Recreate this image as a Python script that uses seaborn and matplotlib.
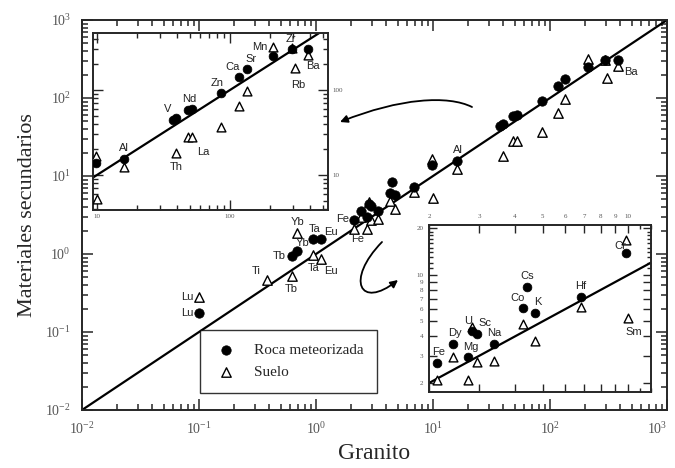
import numpy as np
import pandas as pd
import matplotlib
matplotlib.use("Agg")
import matplotlib.pyplot as plt
from matplotlib.path import Path
from matplotlib.patches import FancyArrowPatch
from matplotlib.ticker import LogLocator, FixedLocator, FixedFormatter, NullFormatter
import seaborn as sns

# concentraciones (granito vs. materiales secundarios)
elementos = ["Lu", "Ti", "Tb", "Yb", "Ta", "Eu",
             "Fe", "Dy", "Mg", "U", "Sc", "Na", "Co", "Cs", "K", "Hf", "Cr", "Sm",
             "Al", "V", "Th", "Nd", "La", "Zn", "Ca", "Sr", "Mn", "Zr", "Rb", "Ba"]
granito = [0.10, 0.38, 0.62, 0.69, 0.95, 1.10,
           2.13, 2.43, 2.74, 2.83, 2.94, 3.38, 4.27, 4.42, 4.71, 6.83, 9.8, 10.0,
           16, 37.3, 39.5, 48.4, 51.8, 85.7, 116, 134, 212, 295, 306, 385]
roca = [0.175, np.nan, 0.94, 1.09, 1.56, 1.56,
        2.69, 3.57, 2.95, 4.33, 4.14, 3.57, 6.1, 8.3, 5.66, 7.18, 13.8, np.nan,
        15.4, 44.4, 46.8, 58, 59.8, 92, 142, 176, 251, 303, np.nan, 303]
suelo = [0.28, 0.46, 0.52, 1.86, 0.97, 0.87,
         2.09, 2.95, 2.09, 4.6, 2.72, 2.77, 4.8, np.nan, 3.73, 6.18, 16.7, 5.25,
         12.4, np.nan, 18.2, 28, 28, 36.7, 65, 97, 320, 310, 181, 257]
diagonal = [1e-2, 1e3]

df = pd.DataFrame({"elemento": elementos, "granito": granito,
                   "roca": roca, "suelo": suelo}).set_index("elemento", drop=False)

sns.set_style("ticks")
plt.rcParams["font.family"] = ["Liberation Serif", "DejaVu Serif"]
plt.rcParams["mathtext.fontset"] = "stix"

fig = plt.figure(figsize=(6.75, 4.68), dpi=100)
ax = fig.add_axes([82/675, 1-410/468, 585/675, 390/468])
ax1 = fig.add_axes([93/675, 1-210/468, 235/675, 177/468])
ax2 = fig.add_axes([429/675, 1-392/468, 222/675, 167/468])


def dibujar(a, s=46, etiqueta=False):
    a.set_xscale("log")
    a.set_yscale("log")
    sns.lineplot(x=diagonal, y=diagonal, ax=a, color="black", lw=1.6)
    sns.scatterplot(data=df, x="granito", y="suelo", ax=a, marker="^", s=s,
                    color="white", edgecolor="black", linewidth=1.0, zorder=3,
                    label="Suelo" if etiqueta else None, legend=False)
    sns.scatterplot(data=df, x="granito", y="roca", ax=a, marker="o", s=s,
                    color="black", edgecolor="black", linewidth=0.5, zorder=4,
                    label="Roca meteorizada" if etiqueta else None, legend=False)
    a.set_xlabel("")
    a.set_ylabel("")
    for sp in a.spines.values():
        sp.set_visible(True)
        sp.set_linewidth(1.4)


def rotular(a, lista, fs=8):
    for el, serie, dx, dy, ha in lista:
        a.annotate(el, (df.loc[el, "granito"], df.loc[el, serie]),
                   xytext=(dx, dy), textcoords="offset points", ha=ha, va="center",
                   fontsize=fs, family=["Liberation Sans", "DejaVu Sans"], color="#222222",
                   zorder=5)


# --- panel principal ---
dibujar(ax, etiqueta=True)
ax.set_xlim(1e-2, 1e3)
ax.set_ylim(1e-2, 1e3)
for eje in (ax.xaxis, ax.yaxis):
    eje.set_major_locator(LogLocator(base=10, numticks=20))
    eje.set_minor_locator(LogLocator(base=10, subs=np.arange(2, 10), numticks=100))
    eje.set_minor_formatter(NullFormatter())
ax.tick_params(which="both", direction="in", top=True, right=True, width=1.1)
ax.tick_params(which="major", length=8, labelsize=10, labelcolor="#555555", pad=8)
ax.tick_params(which="minor", length=4)
ax.set_xlabel("Granito", fontsize=17, labelpad=4)
ax.set_ylabel("Materiales secundarios", fontsize=16, labelpad=6)

rotular(ax, [("Lu", "suelo", -4, 0, "right"), ("Lu", "roca", -4, 0, "right"),
             ("Ti", "suelo", -8, 7, "center"), ("Tb", "roca", -4, 0, "right"),
             ("Tb", "suelo", 0, -9, "center"), ("Yb", "suelo", 0, 8, "center"),
             ("Yb", "roca", 4, 6, "center"), ("Ta", "roca", 1, 7, "center"),
             ("Eu", "roca", 7, 5, "center"), ("Ta", "suelo", 0, -9, "center"),
             ("Eu", "suelo", 7, -9, "center"), ("Fe", "roca", -4, 1, "right"),
             ("Fe", "suelo", 2, -7, "center"), ("Al", "roca", 1, 8, "center"),
             ("Ba", "suelo", 4, -4, "left")])

leg = ax.legend(handles=ax.get_legend_handles_labels()[0][::-1],
                labels=["Roca meteorizada", "Suelo"],
                loc="lower left", bbox_to_anchor=(0.202, 0.044), fontsize=11,
                frameon=True, fancybox=False, edgecolor="black", borderpad=0.9,
                handlelength=1.6, handletextpad=1.0, labelspacing=0.55,
                borderaxespad=0)
leg.get_frame().set_linewidth(1.0)

# flechas
p1 = Path([((472-82)/585, (410-107)/390), ((448-82)/585, (410-95)/390),
           ((400-82)/585, (410-98)/390), ((340-82)/585, (410-122)/390)],
          [Path.MOVETO, Path.CURVE4, Path.CURVE4, Path.CURVE4])
ax.add_patch(FancyArrowPatch(path=p1, arrowstyle="-|>", mutation_scale=11,
                             color="black", lw=1.3, transform=ax.transAxes))
p2 = Path([((382-82)/585, (410-242)/390), ((345-82)/585, (410-280)/390),
           ((360-82)/585, (410-310)/390), ((398-82)/585, (410-280)/390)],
          [Path.MOVETO, Path.CURVE4, Path.CURVE4, Path.CURVE4])
ax.add_patch(FancyArrowPatch(path=p2, arrowstyle="-|>", mutation_scale=11,
                             color="black", lw=1.3, transform=ax.transAxes))

# --- recuadro superior izquierdo ---
dibujar(ax1, s=40)
ax1.set_xlim(9.33, 546)
ax1.set_ylim(3.87, 469)
for eje in (ax1.xaxis, ax1.yaxis):
    eje.set_major_locator(FixedLocator([10, 100]))
    eje.set_major_formatter(FixedFormatter(["10", "100"]))
    eje.set_minor_locator(LogLocator(base=10, subs=np.arange(2, 10), numticks=100))
    eje.set_minor_formatter(NullFormatter())
ax1.tick_params(which="both", direction="in", top=True, right=True, width=1.0,
                labelleft=False, labelright=True, labelsize=5, labelcolor="#555555")
ax1.tick_params(which="major", length=7, pad=3)
ax1.tick_params(which="minor", length=3.5)
rotular(ax1, [("Al", "roca", 0, 8, "center"), ("V", "roca", -4, 8, "center"),
              ("Nd", "roca", 1, 8, "center"), ("Th", "suelo", 0, -10, "center"),
              ("La", "suelo", 8, -11, "center"), ("Zn", "roca", -3, 7, "center"),
              ("Ca", "roca", -4, 7, "center"), ("Sr", "roca", 3, 7, "center"),
              ("Mn", "suelo", -4, 0, "right"), ("Zr", "roca", -1, 7, "center"),
              ("Ba", "suelo", 4, -8, "center"), ("Rb", "suelo", 3, -12, "center")])

# --- recuadro inferior derecho ---
dibujar(ax2, s=40)
ax2.set_xlim(2, 12)
ax2.set_ylim(1.75, 21)
ax2.xaxis.set_major_locator(FixedLocator([2, 3, 4, 5, 6, 7, 8, 9, 10]))
ax2.xaxis.set_major_formatter(FixedFormatter(["2", "3", "4", "5", "6", "7", "8", "9", "10"]))
ax2.xaxis.set_minor_locator(FixedLocator([11, 12]))
ax2.yaxis.set_major_locator(FixedLocator([2, 3, 4, 5, 6, 7, 8, 9, 10, 20]))
ax2.yaxis.set_major_formatter(FixedFormatter(["2", "3", "4", "5", "6", "7", "8", "9", "10", "20"]))
ax2.yaxis.set_minor_locator(FixedLocator(list(range(11, 20))))
for eje in (ax2.xaxis, ax2.yaxis):
    eje.set_minor_formatter(NullFormatter())
ax2.tick_params(which="both", direction="in", top=True, right=True, width=1.0,
                labelbottom=False, labeltop=True, labelsize=5, labelcolor="#555555")
ax2.tick_params(which="major", length=6, pad=4)
ax2.tick_params(which="minor", length=3)
rotular(ax2, [("Fe", "roca", 1, 8, "center"), ("Dy", "roca", 1, 8, "center"),
              ("Mg", "roca", 2, 7, "center"), ("U", "roca", -3, 7, "center"),
              ("Sc", "roca", 6, 8, "center"), ("Na", "roca", 0, 8, "center"),
              ("Cs", "roca", 0, 8, "center"), ("Co", "roca", -4, 7, "center"),
              ("K", "roca", 2, 8, "center"), ("Hf", "roca", 0, 8, "center"),
              ("Cr", "roca", -4, 5, "center"), ("Sm", "suelo", 4, -10, "center")])

# la ultima etiqueta del eje x queda pegada al borde derecho
fig.canvas.draw()
for t in ax.xaxis.get_majorticklabels():
    if t.get_position()[0] >= 999:
        t.set_horizontalalignment("right")
        t.set_x(t.get_position()[0])

fig.savefig("out.png", dpi=100)
